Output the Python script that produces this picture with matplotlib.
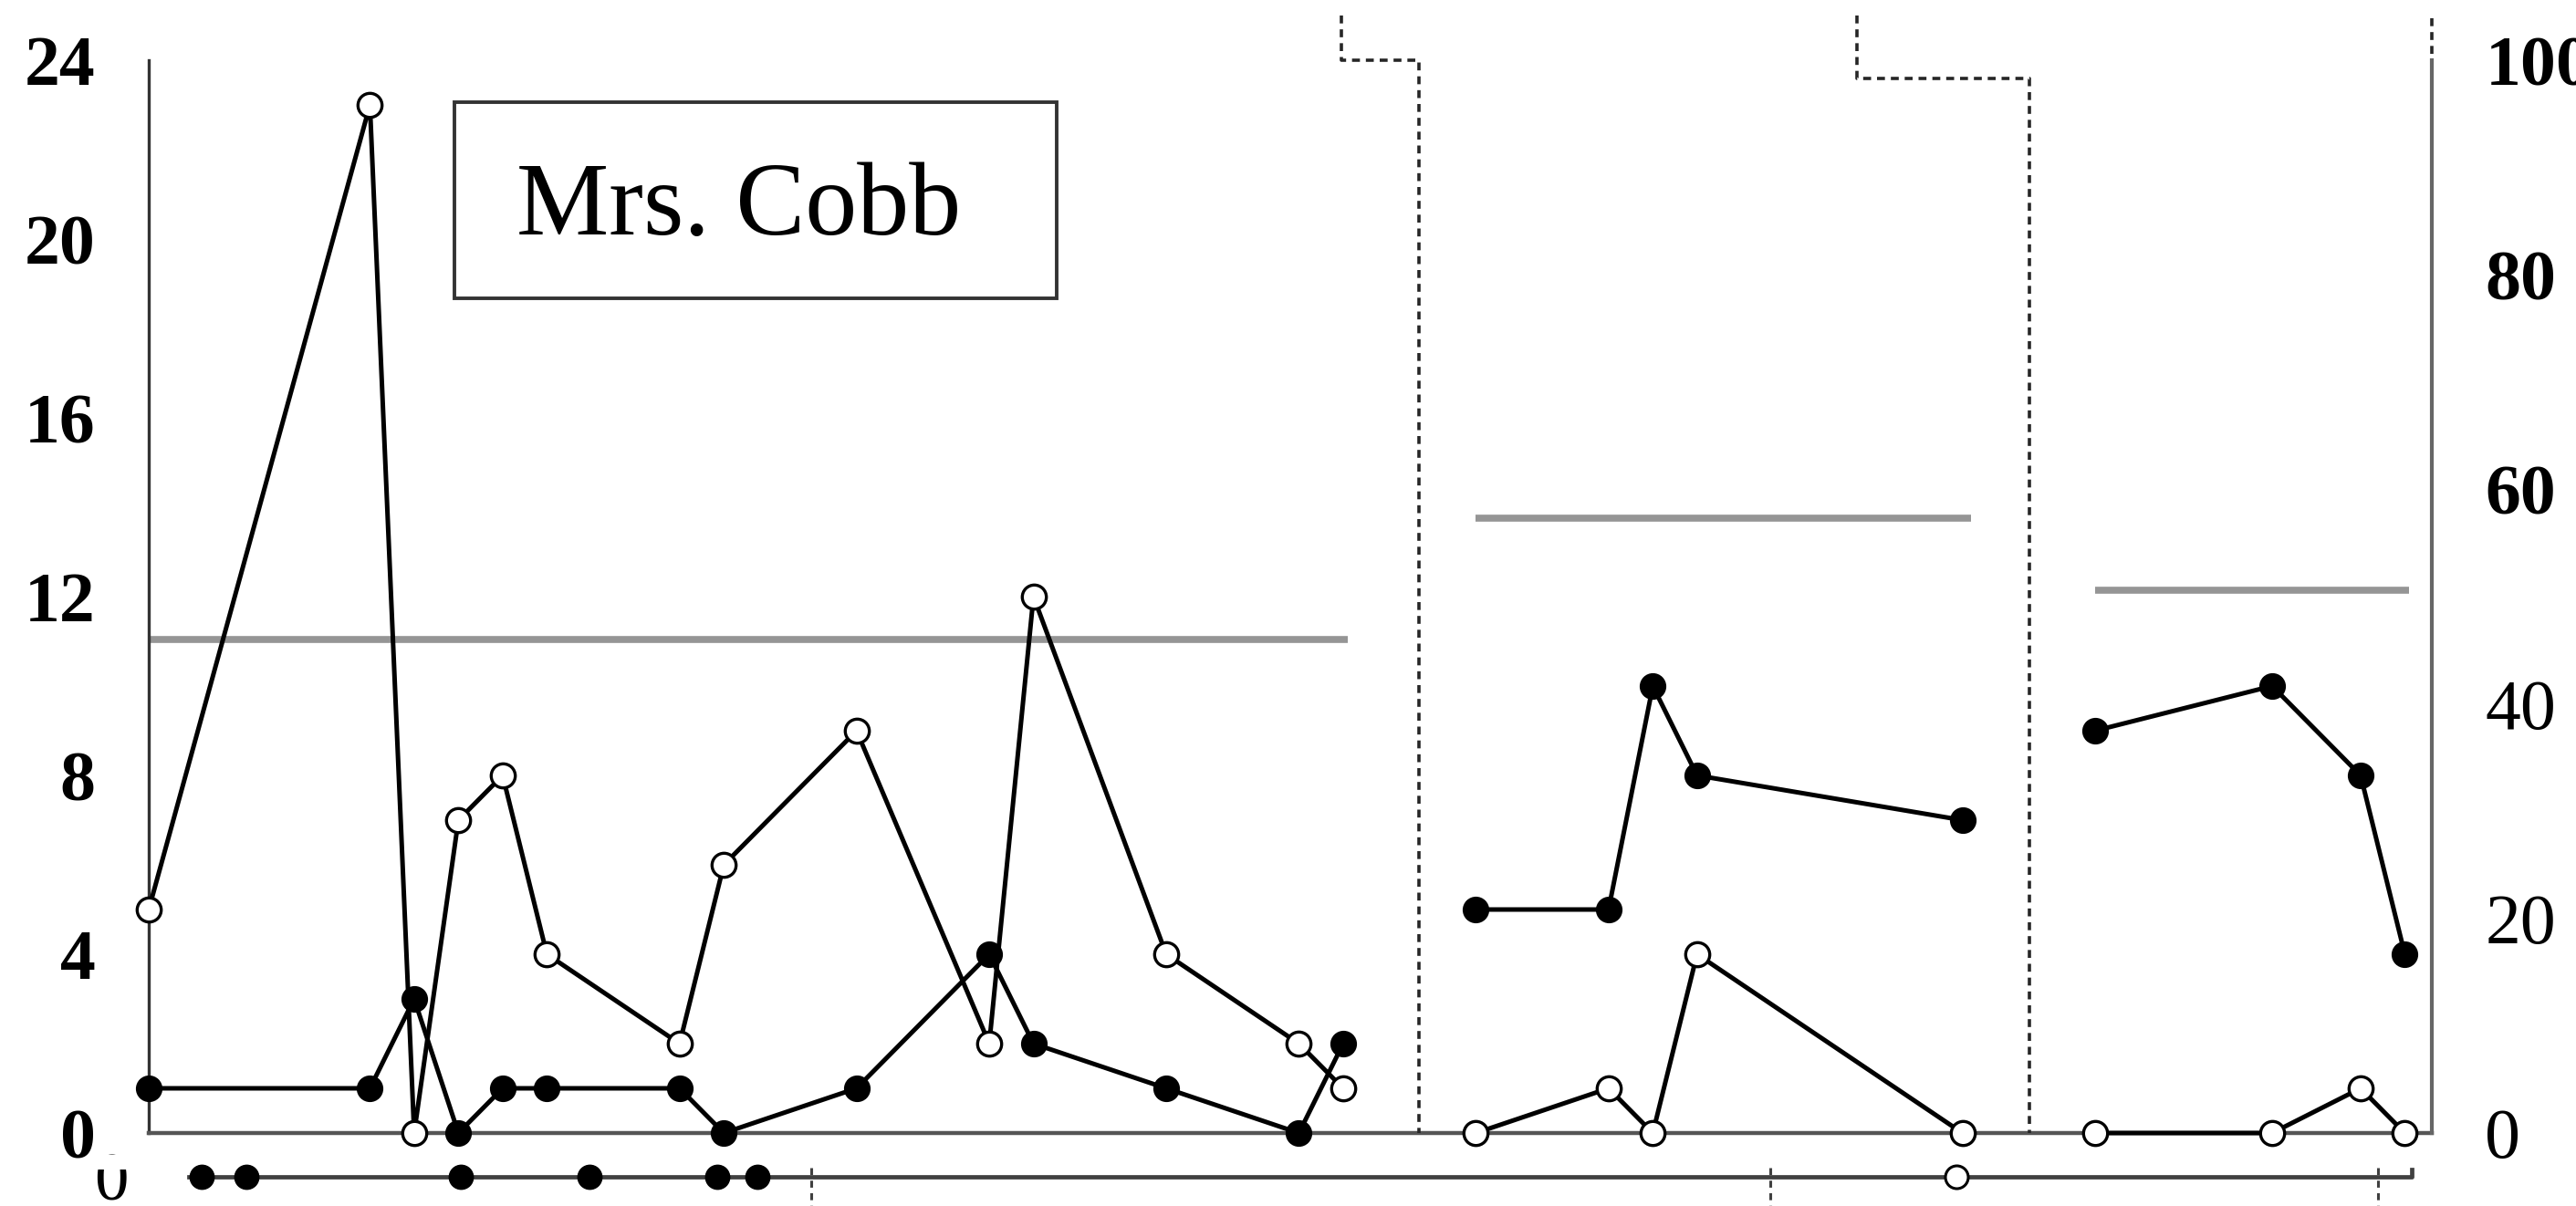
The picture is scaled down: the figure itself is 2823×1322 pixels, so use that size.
import matplotlib.pyplot as plt
from matplotlib.patches import Rectangle

# session days and counts, one list per phase
days1 = [0, 5, 6, 7, 8, 9, 12, 13, 16, 19, 20, 23, 26, 27]
open1 = [5, 23, 0, 7, 8, 4, 2, 6, 9, 2, 12, 4, 2, 1]
fill1 = [1, 1, 3, 0, 1, 1, 1, 0, 1, 4, 2, 1, 0, 2]

days2 = [30, 33, 34, 35, 41]
open2 = [0, 1, 0, 4, 0]
fill2 = [5, 5, 10, 8, 7]

days3 = [44, 48, 50, 51]
open3 = [0, 0, 1, 0]
fill3 = [9, 10, 8, 4]

# gray level line of each phase
level_start = [0, 30, 44]
level_end = [27.1, 41.2, 51.1]
level_val = [11.05, 13.75, 12.15]

# phase change lines, stepping down from the panel above
step_upper = [26.96, 38.61]
step_lower = [28.71, 42.51]
step_y = [24.0, 23.6]

# top of the next panel, cut off at the bottom
strip_fill = [1.2, 2.2, 7.05, 9.96, 12.85, 13.76]
strip_open = [40.86]
strip_phase = [14.98, 36.65, 50.39]

left_ticks = [0, 4, 8, 12, 16, 20, 24]
right_ticks = [0, 20, 40, 60, 80, 100]

W, H = 2823, 1322
fig = plt.figure(figsize=(W / 100, H / 100), dpi=100)
ax = fig.add_axes([163 / W, 80 / H, 2502 / W, 1176 / H])
x_max = 51.61
ax.set_xlim(0, x_max)
ax.set_ylim(0, 24)

serif = 'Liberation Serif'
open_kw = dict(color='black', lw=3.6, marker='o', ms=19, mfc='white',
               mec='black', mew=2.4, clip_on=False, zorder=4)
fill_kw = dict(color='black', lw=3.6, marker='o', ms=20, mfc='black',
               mec='black', clip_on=False, zorder=4)

for d, o, f in [(days1, open1, fill1), (days2, open2, fill2), (days3, open3, fill3)]:
    ax.plot(d, f, **fill_kw)
    ax.plot(d, o, **open_kw)

# gray level lines
for s, e, v in zip(level_start, level_end, level_val):
    ax.plot([s, e], [v, v], color='#959595', lw=5.5, solid_capstyle='butt', zorder=2)

# dashed phase change lines
dash = dict(color='#262626', lw=2.6, ls=(0, (2.4, 1.8)), clip_on=False, zorder=3)
for xu, xl, yy in zip(step_upper, step_lower, step_y):
    ax.plot([xu, xu, xl, xl], [25.0, yy, yy, 0], **dash)
ax.plot([x_max, x_max], [0, 25.0], **dash)

# spines
for s in ['top', 'right']:
    ax.spines[s].set_visible(False)
ax.spines['left'].set_color('#333333')
ax.spines['left'].set_linewidth(2.4)
ax.spines['bottom'].set_color('#555555')
ax.spines['bottom'].set_linewidth(3.2)
ax.set_xticks([])
ax.set_yticks(left_ticks)
ax.set_yticklabels([str(t) for t in left_ticks])
ax.tick_params(axis='y', length=0, pad=42)
for lab in ax.get_yticklabels():
    lab.set_fontfamily(serif)
    lab.set_fontsize(56)
    lab.set_fontweight('bold')

ax2 = ax.twinx()
ax2.set_ylim(0, 100)
ax2.set_yticks(right_ticks)
ax2.set_yticklabels([str(t) for t in right_ticks])
ax2.tick_params(axis='y', length=0, pad=42)
for t, lab in zip(right_ticks, ax2.get_yticklabels()):
    lab.set_fontfamily(serif)
    lab.set_fontsize(56)
    lab.set_fontweight('bold' if t >= 60 else 'normal')
for s in ['top', 'left', 'bottom']:
    ax2.spines[s].set_visible(False)
ax2.spines['right'].set_color('#666666')
ax2.spines['right'].set_linewidth(3.0)

# next panel strip below the axis
strip_y = -0.98
ax.plot([0.91, 51.16, 51.16], [strip_y, strip_y, -0.82], color='#404040', lw=3.4,
        clip_on=False, zorder=3)
ax.plot(strip_fill, [strip_y] * len(strip_fill), ls='none', marker='o', ms=19,
        mfc='black', mec='black', clip_on=False, zorder=4)
ax.plot(strip_open, [strip_y] * len(strip_open), ls='none', marker='o', ms=18,
        mfc='white', mec='black', mew=2.2, clip_on=False, zorder=4)
for d in strip_phase:
    ax.plot([d, d], [-0.78, -1.7], color='#404040', lw=2.2, ls=(0, (2.5, 2.0)),
            clip_on=False, zorder=3)
fig.text(122 / W, 1 - 1298 / H, '0', fontfamily=serif, fontsize=54,
         ha='center', va='center')
fig.patches.append(Rectangle((95 / W, 1 - 1282 / H), 60 / W, 16 / H,
                             transform=fig.transFigure, facecolor='white',
                             edgecolor='none', zorder=5))

# name box
fig.patches.append(Rectangle((498 / W, 1 - 327 / H), 660 / W, 215 / H,
                             transform=fig.transFigure, facecolor='white',
                             edgecolor='#333333', lw=2.8, zorder=5))
fig.text(810 / W, 1 - 257 / H, 'Mrs. Cobb', fontfamily=serif, fontsize=82,
         ha='center', va='baseline', zorder=6)

fig.savefig('out.png', dpi=100)
